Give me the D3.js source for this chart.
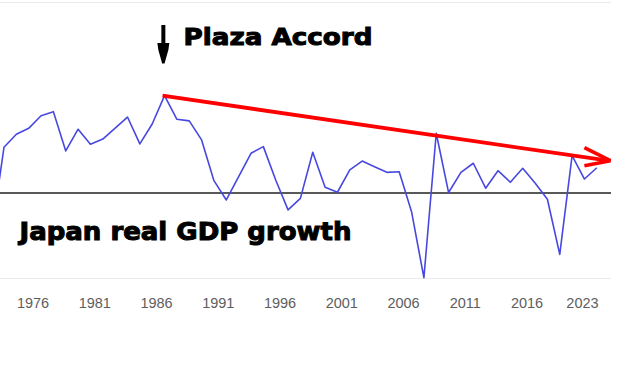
<!DOCTYPE html>
<html>
<head>
<meta charset="utf-8">
<script src="https://cdn.jsdelivr.net/npm/d3@7"></script>
<style>
  html, body { margin: 0; padding: 0; background: #fff; }
  svg { display: block; }
</style>
</head>
<body>
<svg id="chart" width="623" height="365"></svg>
<script>
// ---- data ----
const years = [1974, 1975, 1976, 1977, 1978, 1979, 1980, 1981, 1982, 1983, 1984, 1985, 1986, 1987, 1988, 1989,
  1990, 1991, 1992, 1993, 1994, 1995, 1996, 1997, 1998, 1999, 2000, 2001, 2002, 2003, 2004, 2005,
  2006, 2007, 2008, 2009, 2010, 2011, 2012, 2013, 2014, 2015, 2016, 2017, 2018, 2019, 2020, 2021, 2022, 2023];
const growth = [-2.7, 3.08, 3.95, 4.35, 5.20, 5.47, 2.83, 4.29, 3.28, 3.63, 4.37, 5.11, 3.30, 4.64, 6.55, 4.96,
  4.85, 3.57, 0.83, -0.47, 1.10, 2.67, 3.12, 0.87, -1.14, -0.36, 2.74, 0.38, 0.05, 1.55, 2.15, 1.77,
  1.39, 1.43, -1.26, -5.70, 4.02, 0.03, 1.39, 2.00, 0.32, 1.50, 0.72, 1.66, 0.67, -0.42, -4.13, 2.51, 0.94, 1.70];
const tickYears = [1976, 1981, 1986, 1991, 1996, 2001, 2006, 2011, 2016, 2023];
const plazaYear = 1988;
const trendEnd = { year: 2024.1, value: 2.17 };
const titleText = "Japan real GDP growth";
const annotationText = "Plaza Accord";

// ---- layout ----
const svg = d3.select("#chart");
const plotLeft = 0, plotRight = 611, plotTop = 2, plotBottom = 278;

const x = d3.scaleLinear().domain([1975, 2023]).range([4, 596.8]);
const y = d3.scaleLinear().domain([-5.72, 12.85]).range([plotBottom, plotTop]);

svg.append("defs").append("clipPath").attr("id", "plotclip")
  .append("rect").attr("x", plotLeft).attr("y", 0).attr("width", plotRight - plotLeft).attr("height", 365);

// gridlines
[plotTop, plotBottom].forEach(py => {
  svg.append("line")
    .attr("x1", plotLeft).attr("x2", plotRight)
    .attr("y1", py + 0.5).attr("y2", py + 0.5)
    .attr("stroke", "#ebebeb").attr("stroke-width", 1);
});

// zero baseline
svg.append("line")
  .attr("x1", plotLeft).attr("x2", plotRight)
  .attr("y1", y(0)).attr("y2", y(0))
  .attr("stroke", "#222").attr("stroke-width", 1.4);

// data line
const pts = years.map((yr, i) => [yr, growth[i]]);
svg.append("path")
  .datum(pts)
  .attr("clip-path", "url(#plotclip)")
  .attr("fill", "none")
  .attr("stroke", "#4848e0")
  .attr("stroke-width", 1.6)
  .attr("stroke-linejoin", "round")
  .attr("d", d3.line().x(d => x(d[0])).y(d => y(d[1])));

// x-axis labels
const labelOffset = 16.7;
const labelY = 308;
tickYears.forEach(t => {
  let cx = x(t) + labelOffset;
  cx = Math.min(cx, 582.5);
  svg.append("text")
    .attr("x", cx).attr("y", labelY)
    .attr("text-anchor", "middle")
    .attr("font-family", "Liberation Sans, Arial, sans-serif")
    .attr("font-size", 14.5)
    .attr("fill", "#5e5e5e")
    .text(t);
});

// red trend arrow
const pv = growth[years.indexOf(plazaYear)];
const sx = x(plazaYear) - 2, sy = y(pv);
const ex = x(trendEnd.year), ey = y(trendEnd.value);
svg.append("line")
  .attr("x1", sx).attr("y1", sy).attr("x2", ex - 2).attr("y2", ey)
  .attr("stroke", "#ff0000").attr("stroke-width", 3.8);
svg.append("path")
  .attr("d", `M${ex - 26},${ey - 13} L${ex},${ey} L${ex - 26},${ey + 5}`)
  .attr("fill", "none").attr("stroke", "#ff0000").attr("stroke-width", 3.6)
  .attr("stroke-linejoin", "bevel");

// black down arrow at Plaza point
const ax = x(plazaYear) - 1.2;
svg.append("line")
  .attr("x1", ax).attr("x2", ax).attr("y1", 25).attr("y2", 48)
  .attr("stroke", "#000").attr("stroke-width", 4);
svg.append("path")
  .attr("d", `M${ax - 6},43 L${ax + 6},43 L${ax + 5},50 L${ax + 1.2},63.5 L${ax - 1.2},63.5 L${ax - 5},50 Z`)
  .attr("fill", "#000");

// annotation texts
svg.append("text")
  .attr("x", 183.5).attr("y", 44.5)
  .attr("font-family", "DejaVu Sans, Verdana, sans-serif")
  .attr("font-weight", "bold")
  .attr("font-size", 23.5)
  .attr("fill", "#000").attr("stroke", "#000").attr("stroke-width", 1)
  .attr("textLength", 189).attr("lengthAdjust", "spacingAndGlyphs")
  .text(annotationText);

svg.append("text")
  .attr("x", 19.5).attr("y", 239.5)
  .attr("font-family", "DejaVu Sans, Verdana, sans-serif")
  .attr("font-weight", "bold")
  .attr("font-size", 24)
  .attr("fill", "#000").attr("stroke", "#000").attr("stroke-width", 1)
  .attr("textLength", 332).attr("lengthAdjust", "spacingAndGlyphs")
  .text(titleText);
</script>
</body>
</html>
